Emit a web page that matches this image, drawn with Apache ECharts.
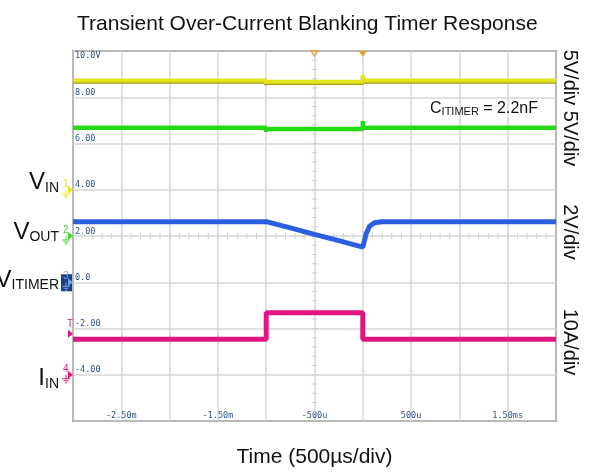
<!DOCTYPE html>
<html><head><meta charset="utf-8">
<script src="https://cdn.jsdelivr.net/npm/echarts@6/dist/echarts.min.js"></script>
<style>html,body{margin:0;padding:0;background:#fff}#c{width:593px;height:474px}</style>
</head><body><div id="c"></div>
<script>
// ---- data ----
const xTickValues = [-2.5, -1.5, -0.5, 0.5, 1.5];
const xTickLabels = ['-2.50m', '-1.50m', '-500u', '500u', '1.50ms'];
const yTickValues = [10, 8, 6, 4, 2, 0, -2, -4];
const yTickLabels = ['10.0V', '8.00', '6.00', '4.00', '2.00', '0.0', '-2.00', '-4.00'];

const vinTime = [-3.0, -1.0, -1.0, -1.0, 0.0, 0.0, 0.0, 2.0];
const vinVal  = [8.72, 8.72, 8.57, 8.67, 8.67, 8.96, 8.72, 8.72];

const vout5Time = [-3.0, -1.0, -1.0, -1.0, 0.0, 0.0, 0.0, 2.0];
const vout5Val  = [6.68, 6.68, 6.50, 6.63, 6.63, 6.97, 6.68, 6.68];

const vitimerTime = [-3.0, -1.0, -0.75, -0.5, -0.25, 0.0, 0.02, 0.035, 0.07, 0.12, 0.2, 2.0];
const vitimerVal  = [2.62, 2.62, 2.35, 2.07, 1.80, 1.52, 1.55, 2.10, 2.42, 2.57, 2.62, 2.62];

const iinTime = [-3.0, -1.0, -1.0, 0.0, 0.0, 2.0];
const iinVal  = [-2.47, -2.47, -1.32, -1.32, -2.47, -2.47];

const triggerMarks = [-0.5, 0.0];

function pairs(t, v) { return t.map((x, i) => [x, v[i]]); }

const FONT = 'Liberation Sans';
const chart = echarts.init(document.getElementById('c'), null, {renderer: 'canvas'});

const option = {
  animation: false,
  backgroundColor: '#fff',
  title: {
    text: 'Transient Over-Current Blanking Timer Response',
    left: 72, top: 9,
    textStyle: {fontFamily: FONT, fontSize: 21, fontWeight: 'normal', color: '#111'}
  },
  grid: {left: 73, top: 51, width: 483, height: 370, show: true, borderColor: '#333', borderWidth: 1.5, backgroundColor: '#fff'},
  xAxis: {
    type: 'value', min: -3, max: 2, interval: 0.5,
    axisLine: {show: false}, axisTick: {show: false},
    splitLine: {show: true, lineStyle: {color: '#d6d6d6', width: 1.5}},
    axisLabel: {
      inside: true, margin: 1, fontFamily: 'DejaVu Sans Mono', fontSize: 8.5, color: '#2f5288',
      showMinLabel: false, showMaxLabel: false,
      formatter: v => { const i = xTickValues.findIndex(t => Math.abs(t - v) < 1e-6); return i >= 0 ? xTickLabels[i] : ''; }
    },
    name: 'Time (500µs/div)', nameLocation: 'middle', nameGap: 26,
    nameTextStyle: {fontFamily: FONT, fontSize: 21, color: '#111'}
  },
  yAxis: {
    type: 'value', min: -6, max: 10, interval: 2,
    axisLine: {show: false}, axisTick: {show: false},
    splitLine: {show: true, lineStyle: {color: '#d6d6d6', width: 1.5}},
    axisLabel: {
      inside: true, margin: 2, verticalAlign: 'bottom', verticalAlignMaxLabel: 'top',
      showMinLabel: false, showMaxLabel: true,
      fontFamily: 'DejaVu Sans Mono', fontSize: 8.5, color: '#2f5288',
      formatter: v => { const i = yTickValues.findIndex(t => Math.abs(t - v) < 1e-6); return i >= 0 ? yTickLabels[i] : ''; }
    }
  },
  series: [
    {name: 'IIN', type: 'line', data: pairs(iinTime, iinVal), showSymbol: false, symbol: 'none', z: 3,
     lineStyle: {color: '#e0157f', width: 5}},
    {name: 'VITIMER', type: 'line', data: pairs(vitimerTime, vitimerVal), showSymbol: false, symbol: 'none', z: 4,
     lineStyle: {color: '#2b5ee0', width: 5}},
    {name: 'VOUT', type: 'line', data: pairs(vout5Time, vout5Val), showSymbol: false, symbol: 'none', z: 5,
     lineStyle: {color: '#25d915', width: 4.5}},
    {name: 'VIN', type: 'line', data: pairs(vinTime, vinVal), showSymbol: false, symbol: 'none', z: 6,
     lineStyle: {color: '#e4e41c', width: 4, shadowColor: '#9e9e10', shadowOffsetY: 1.2, shadowBlur: 0}}
  ]
};
chart.setOption(option);

// ---- decorations ----
const P = (x, y) => chart.convertToPixel({gridIndex: 0}, [x, y]);
const g = [];
const gridCol = '#cfcfcf';
// center minor ticks
for (let k = -20; k <= 20; k++) {
  const p = P(-0.5, 2 + k * 0.4);
  if (p[1] < 52 || p[1] > 420) continue;
  g.push({type: 'line', shape: {x1: p[0] - 3, y1: p[1], x2: p[0] + 3, y2: p[1]}, style: {stroke: gridCol, lineWidth: 1}, z: 1});
}
for (let k = -30; k <= 30; k++) {
  const p = P(-0.5 + k * 0.1, 2);
  if (p[0] < 74 || p[0] > 555) continue;
  g.push({type: 'line', shape: {x1: p[0], y1: p[1] - 3, x2: p[0], y2: p[1] + 3}, style: {stroke: gridCol, lineWidth: 1}, z: 1});
}
// trigger markers at top
const t1 = P(triggerMarks[0], 10), t2 = P(triggerMarks[1], 10);
g.push({type: 'polygon', shape: {points: [[t1[0] - 3.5, t1[1]], [t1[0] + 3.5, t1[1]], [t1[0], t1[1] + 5]]}, style: {fill: 'none', stroke: '#f29b2a', lineWidth: 1.3}, z: 10});
g.push({type: 'polygon', shape: {points: [[t2[0] - 4, t2[1]], [t2[0] + 4, t2[1]], [t2[0], t2[1] + 6]]}, style: {fill: '#f29b2a'}, z: 10});

// channel markers on left
function ground(x, y, col) {
  g.push({type: 'line', shape: {x1: x, y1: y, x2: x, y2: y + 4}, style: {stroke: col, lineWidth: 1}});
  g.push({type: 'line', shape: {x1: x - 4, y1: y + 4, x2: x + 4, y2: y + 4}, style: {stroke: col, lineWidth: 1}});
  g.push({type: 'line', shape: {x1: x - 2.5, y1: y + 6, x2: x + 2.5, y2: y + 6}, style: {stroke: col, lineWidth: 1}});
  g.push({type: 'line', shape: {x1: x - 1, y1: y + 8, x2: x + 1, y2: y + 8}, style: {stroke: col, lineWidth: 1}});
}
function arrow(x, y, col) {
  g.push({type: 'polygon', shape: {points: [[x - 5, y - 4], [x, y], [x - 5, y + 4]]}, style: {fill: col}});
}
function chMarker(num, yv, col, boxed) {
  const p = P(-3, yv);
  const x = p[0], y = p[1];
  if (boxed) {
    g.push({type: 'rect', shape: {x: x - 12, y: y - 8, width: 11, height: 17}, style: {fill: '#173f86'}});
  }
  g.push({type: 'text', style: {text: num, x: x - 10, y: y - 1, fill: boxed ? '#7fa0e8' : col, fontSize: 10, fontFamily: FONT, verticalAlign: 'bottom', align: 'left'}});
  ground(x - 7, y, boxed ? '#7fa0e8' : col);
  arrow(x, y, boxed ? '#7fa0e8' : col);
}
chMarker('1', 4, '#e8e81a', false);
chMarker('2', 2, '#33dd22', false);
chMarker('3', 0, '#173f86', true);
chMarker('4', -4, '#e0157f', false);
const tp = P(-3, -2.1);
g.push({type: 'text', style: {text: 'T', x: tp[0] - 6, y: tp[1] - 2, fill: '#e0157f', fontSize: 10, fontFamily: FONT, align: 'left', verticalAlign: 'bottom'}});
arrow(tp[0], tp[1] + 3, '#e0157f');

// left signal labels
function sigLabel(main, sub, yv, dy) {
  const p = P(-3, yv);
  g.push({type: 'text', z: 20, style: {
    text: '{v|' + main + '}{s|' + sub + '}', x: p[0] - 14, y: p[1] + dy, align: 'right', verticalAlign: 'bottom',
    rich: {v: {fontSize: 24, fontFamily: FONT, fill: '#111', verticalAlign: 'bottom'},
           s: {fontSize: 14, fontFamily: FONT, fill: '#111', verticalAlign: 'bottom'}}
  }});
}
sigLabel('V', 'IN', 4, 5);
sigLabel('V', 'OUT', 2, 8);
sigLabel('V', 'ITIMER', 0, 10);
sigLabel('I', 'IN', -4, 16);

// CITIMER annotation
g.push({type: 'text', z: 20, style: {
  text: '{c|C}{s|ITIMER}{c| = 2.2nF}', x: 538, y: 117, align: 'right', verticalAlign: 'bottom',
  rich: {c: {fontSize: 16, fontFamily: FONT, fill: '#111', verticalAlign: 'bottom'},
         s: {fontSize: 11, fontFamily: FONT, fill: '#111', verticalAlign: 'bottom'}}
}});

// right rotated scale labels
function rot(text, yc) {
  g.push({type: 'text', x: 570, y: yc, rotation: -Math.PI / 2, style: {text: text, x: 0, y: 0, align: 'center', verticalAlign: 'middle', fontSize: 20, fontFamily: FONT, fill: '#111'}});
}
rot('5V/div 5V/div', 108);
rot('2V/div', 232);
rot('10A/div', 342);

chart.setOption({graphic: {elements: g}});
</script>
</body></html>
